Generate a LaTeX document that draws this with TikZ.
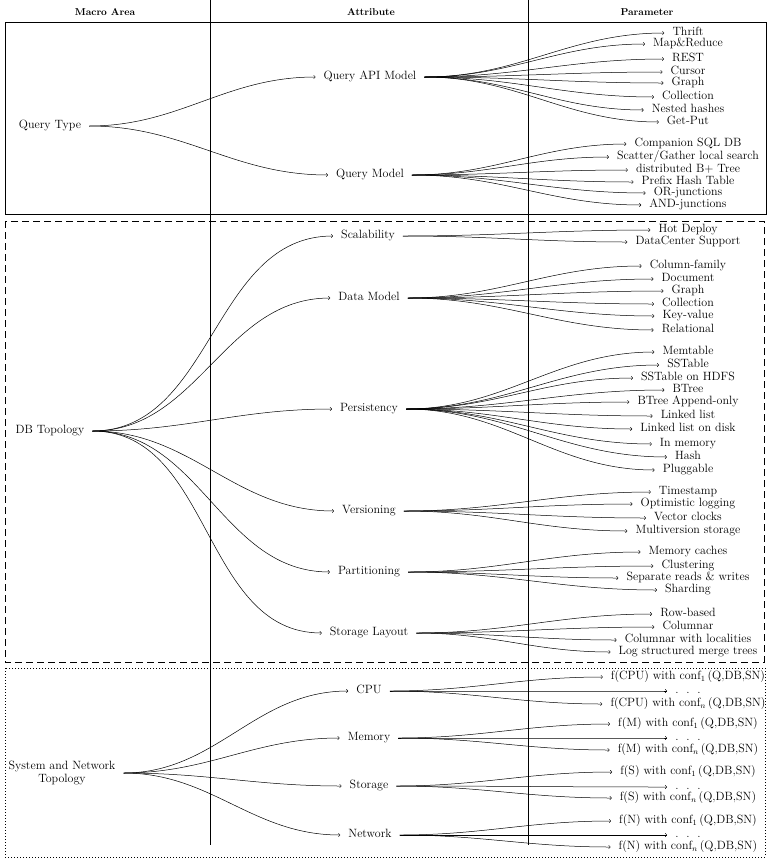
\documentclass[tikz,border=0pt]{standalone}
\begin{document}
\begin{tikzpicture}[x=1pt,y=-1pt,
  every node/.style={font=\fontsize{12}{13.5}\selectfont},
  hdr/.style={font=\bfseries\fontsize{10}{12}\selectfont},
  lbl/.style={inner xsep=8pt, inner ysep=1pt, text height=1.6ex, text depth=.3ex},
  conn/.style={->, line width=0.5pt},
  frame/.style={line width=0.7pt},
  sep/.style={line width=0.7pt}]
\useasboundingbox (0,0) rectangle (772,863);

\newcommand\paramfan[2]{%
  \foreach \yy/\ptxt [count=\pk] in {#2} {%
    \node[lbl] (#1-\pk) at (688,\yy) {\ptxt};
    \draw[conn] (#1.east) to[out=0,in=180] (#1-\pk.west);
  }}
\newcommand\cnf[1]{conf$_{\scriptstyle #1}$\,(Q,DB,SN)}

% frames
\draw[frame] (5,22) rectangle (766,214);
\draw[frame, dash pattern=on 7pt off 4pt] (5,221) rectangle (764,662);
\draw[frame, dash pattern=on 1pt off 2pt] (5,668) rectangle (765,857);

% column separators
\draw[sep] (210,0) -- (210,845);
\draw[sep] (528,0) -- (528,845);

% headers
\node[hdr] (h1) at (105,12) {Macro Area};
\node[hdr] (h2) at (371,12) {Attribute};
\node[hdr] (h3) at (647,12) {Parameter};

% ---------- Query Type ----------
\node[lbl] (qt) at (50,126) {Query Type};
\node[lbl] (qapi) at (370,77) {Query API Model};
\node[lbl] (qm) at (370,175) {Query Model};
\draw[conn] (qt.east) to[out=0,in=180] (qapi.west);
\draw[conn] (qt.east) to[out=0,in=180] (qm.west);
\paramfan{qapi}{33/Thrift, 44/Map\&Reduce, 59/REST, 72/Cursor, 83/Graph, 97/Collection, 110/Nested hashes, 122/Get-Put}
\paramfan{qm}{144/Companion SQL DB, 157/{Scatter/Gather local search}, 170/distributed B+ Tree, 182/Prefix Hash Table, 193/OR-junctions, 205/AND-junctions}

% ---------- DB Topology ----------
\node[lbl] (db) at (50,431) {DB Topology};
\node[lbl] (sc) at (368,236) {Scalability};
\node[lbl] (dm) at (369,298) {Data Model};
\node[lbl] (pe) at (369,409) {Persistency};
\node[lbl] (ve) at (369,511) {Versioning};
\node[lbl] (pa) at (369,572) {Partitioning};
\node[lbl] (sl) at (369,633) {Storage Layout};
\foreach \c in {sc,dm,pe,ve,pa,sl} {\draw[conn] (db.east) to[out=0,in=180] (\c.west);}
\paramfan{sc}{230/Hot Deploy, 242/DataCenter Support}
\paramfan{dm}{266/Column-family, 279/Document, 291/Graph, 304/Collection, 316/Key-value, 330/Relational}
\paramfan{pe}{352/Memtable, 365/SSTable, 378/SSTable on HDFS, 390/BTree, 402/BTree Append-only, 416/Linked list, 429/Linked list on disk, 444/In memory, 457/Hash, 470/Pluggable}
\paramfan{ve}{492/Timestamp, 504/Optimistic logging, 518/Vector clocks, 531/Multiversion storage}
\paramfan{pa}{552/Memory caches, 566/Clustering, 578/Separate reads \& writes, 590/Sharding}
\paramfan{sl}{614/Row-based, 627/Columnar, 640/Columnar with localities, 652/Log structured merge trees}

% ---------- System and Network Topology ----------
\node[inner xsep=8pt, align=center] (sn) at (62,773) {System and Network\\Topology};
\node[lbl] (cpu) at (369,691) {CPU};
\node[lbl] (mem) at (369,738) {Memory};
\node[lbl] (sto) at (369,786) {Storage};
\node[lbl] (net) at (370,835) {Network};
\foreach \c in {cpu,mem,sto,net} {\draw[conn] (sn.east) to[out=0,in=180] (\c.west);}
\paramfan{cpu}{677/{f(CPU) with \cnf{1}}, 691/{.\ \ .\ \ .}, 704/{f(CPU) with \cnf{n}}}
\paramfan{mem}{724/{f(M) with \cnf{1}}, 738/{.\ \ .\ \ .}, 750/{f(M) with \cnf{n}}}
\paramfan{sto}{772/{f(S) with \cnf{1}}, 787/{.\ \ .\ \ .}, 798/{f(S) with \cnf{n}}}
\paramfan{net}{821/{f(N) with \cnf{1}}, 835/{.\ \ .\ \ .}, 847/{f(N) with \cnf{n}}}
\end{tikzpicture}
\end{document}
